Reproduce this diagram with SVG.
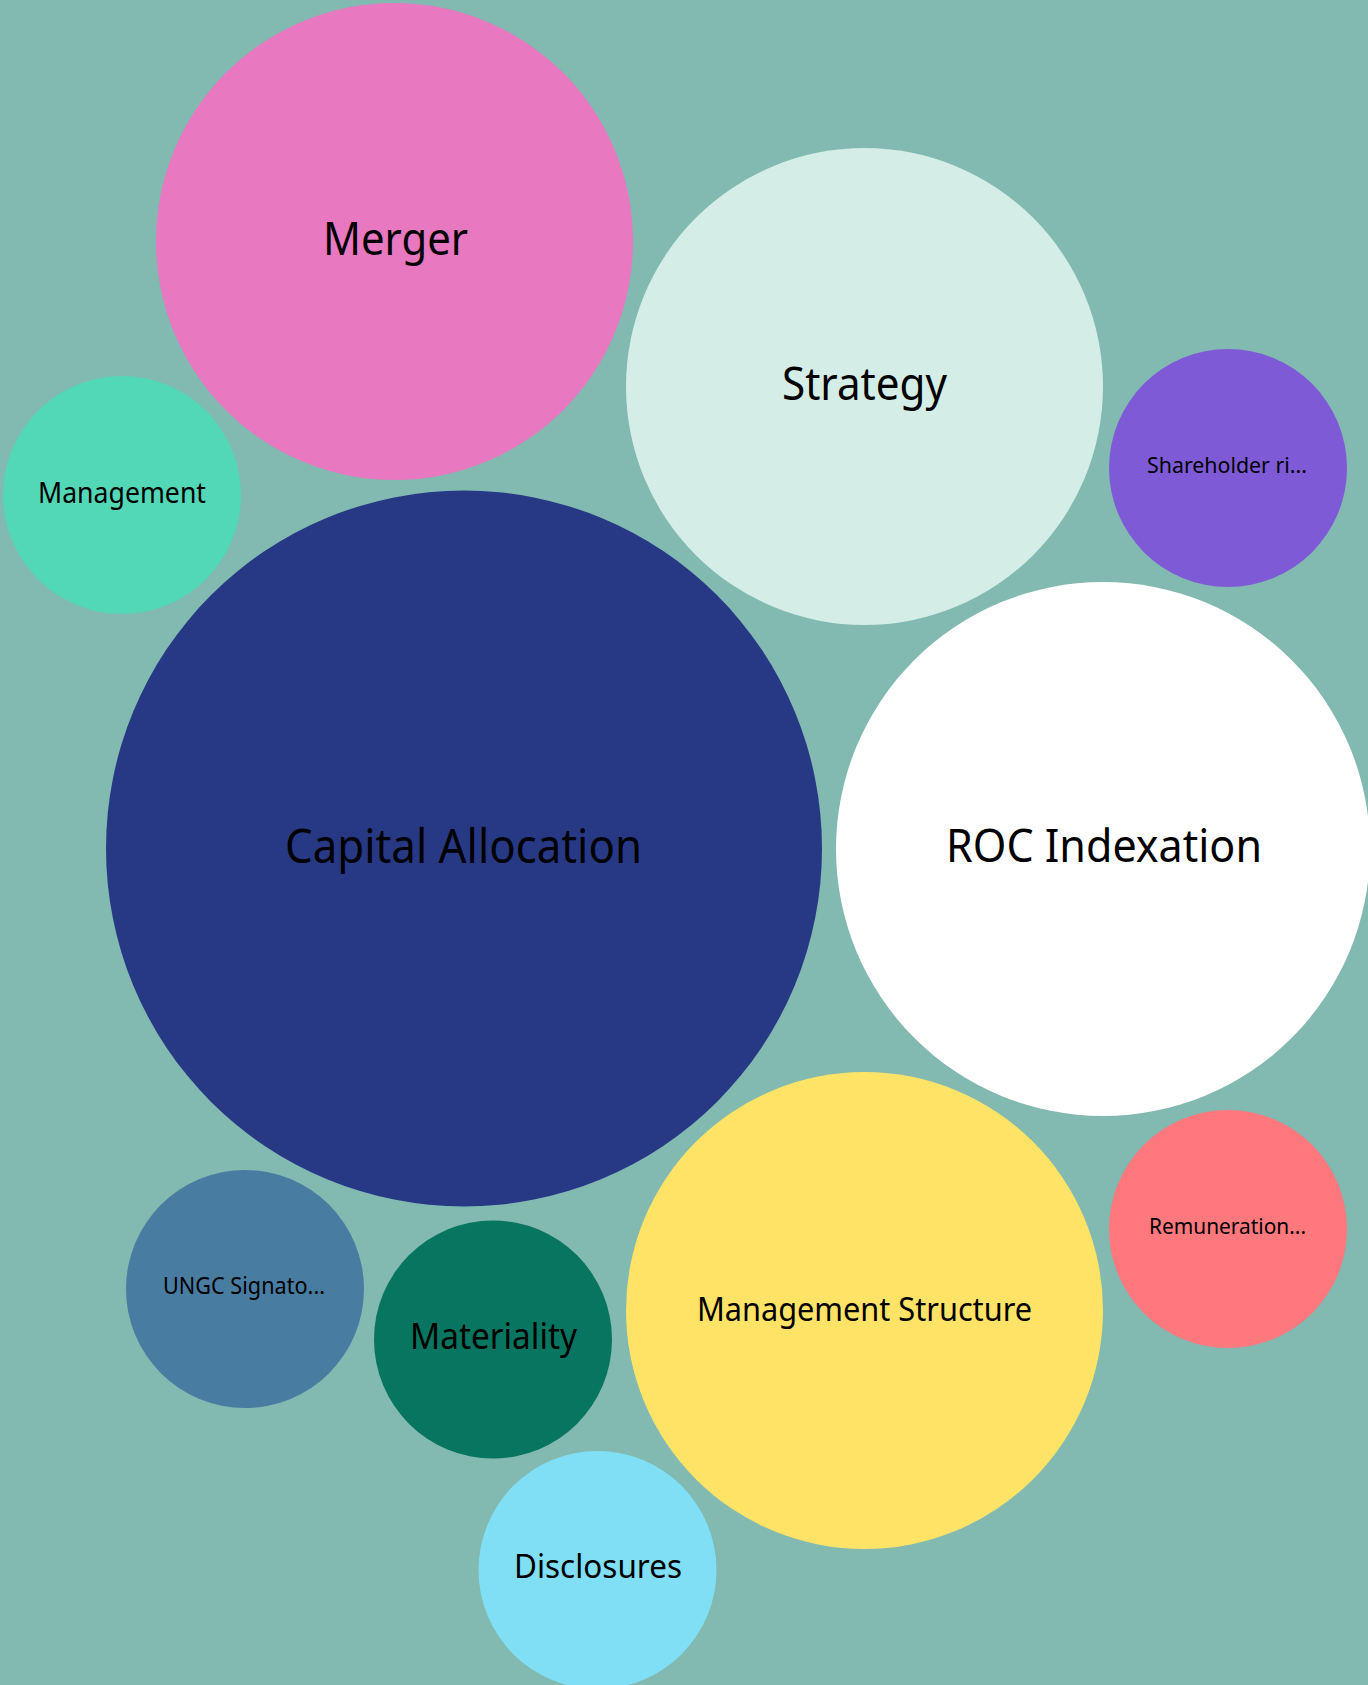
<svg xmlns="http://www.w3.org/2000/svg" width="1368" height="1685" viewBox="0 0 1368 1685">
<style>
text{font-family:"Noto Sans","Open Sans","Liberation Sans",sans-serif;fill:#000;text-anchor:middle}
</style>
<rect width="1368" height="1685" fill="#82B9B0"/>
<g id="merger"><circle cx="394.5" cy="241.5" r="238.5" fill="#E878C0"/><text x="395.5" y="255" font-size="46" textLength="145" lengthAdjust="spacingAndGlyphs">Merger</text></g>
<g id="strategy"><circle cx="864.5" cy="386.5" r="238.5" fill="#D4EDE6"/><text x="864.5" y="400" font-size="45" textLength="165" lengthAdjust="spacingAndGlyphs">Strategy</text></g>
<g id="shareholder"><circle cx="1228" cy="468" r="119" fill="#7F5AD6"/><text x="1227" y="473" font-size="22" textLength="160" lengthAdjust="spacingAndGlyphs">Shareholder ri...</text></g>
<g id="management"><circle cx="122" cy="495" r="119" fill="#52D8B6"/><text x="122" y="503" font-size="29" textLength="168" lengthAdjust="spacingAndGlyphs">Management</text></g>
<g id="capital-allocation"><circle cx="464" cy="848.5" r="358" fill="#273985"/><text x="463.5" y="863" font-size="47" textLength="357" lengthAdjust="spacingAndGlyphs">Capital Allocation</text></g>
<g id="roc-indexation"><circle cx="1103" cy="849" r="267" fill="#FFFFFF"/><text x="1104" y="862" font-size="45" textLength="316" lengthAdjust="spacingAndGlyphs">ROC Indexation</text></g>
<g id="remuneration"><circle cx="1228" cy="1229" r="119" fill="#FF787E"/><text x="1227.5" y="1234" font-size="22" textLength="157" lengthAdjust="spacingAndGlyphs">Remuneration...</text></g>
<g id="ungc"><circle cx="245" cy="1289" r="119" fill="#497CA1"/><text x="244" y="1294" font-size="23" textLength="162" lengthAdjust="spacingAndGlyphs">UNGC Signato...</text></g>
<g id="materiality"><circle cx="493" cy="1339.5" r="119" fill="#07755F"/><text x="493.5" y="1349" font-size="36" textLength="167" lengthAdjust="spacingAndGlyphs">Materiality</text></g>
<g id="management-structure"><circle cx="864.5" cy="1310.5" r="238.5" fill="#FFE366"/><text x="864.5" y="1321" font-size="32" textLength="335" lengthAdjust="spacingAndGlyphs">Management Structure</text></g>
<g id="disclosures"><circle cx="597.5" cy="1570" r="119" fill="#80DFF5"/><text x="598" y="1578" font-size="32" textLength="168" lengthAdjust="spacingAndGlyphs">Disclosures</text></g>
<g id="connectors"/>
</svg>
